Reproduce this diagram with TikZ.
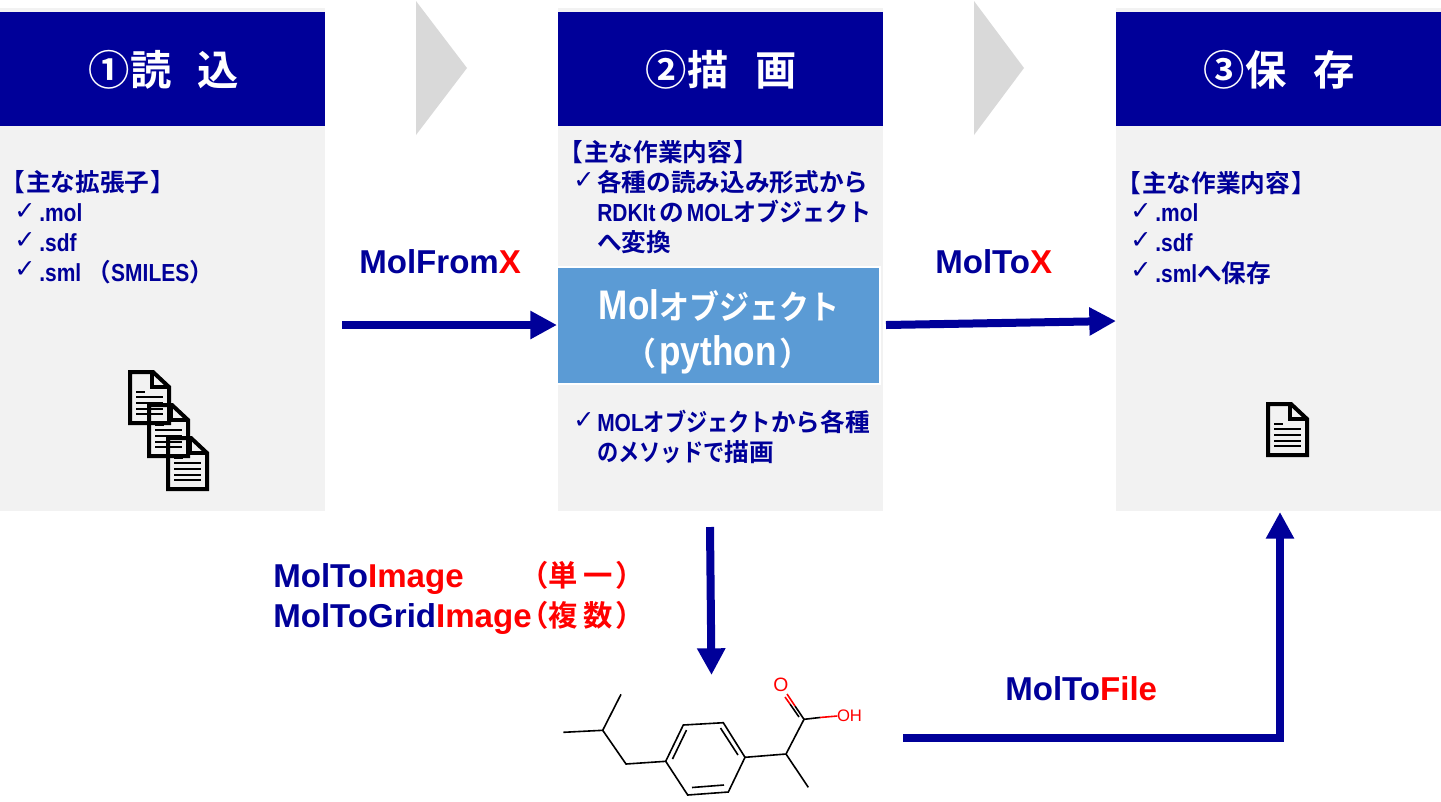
\documentclass[tikz,border=0pt]{standalone}
\usepackage{fontspec}
\setmainfont{Liberation Sans}[BoldFont={Liberation Sans Bold}]
\newfontfamily\cjk{Noto Sans CJK JP Bold}
\newfontfamily\narrowlat{Liberation Sans Bold}[FakeStretch=0.85]
\newfontfamily\sym{DejaVu Sans}
\usetikzlibrary{arrows.meta}
\definecolor{navy}{HTML}{000099}
\definecolor{panel}{HTML}{F2F2F2}
\definecolor{molblue}{HTML}{5B9BD5}
\definecolor{chev}{HTML}{D9D9D9}
\newcommand{\J}[1]{{\cjk #1}}
\newcommand{\N}[1]{{\narrowlat #1}}
\newcommand{\K}[2]{\scalebox{#1}[1]{\J{#2}}}
\newcommand{\fs}[1]{\fontsize{#1pt}{#1pt}\selectfont}
\newcommand{\Chk}{{\sym\fs{19}✓}}
\newcommand{\R}[1]{\textcolor{red}{#1}}
\tikzset{
  x=0.75pt,y=-0.75pt,
  panelbox/.style={fill=panel,draw=none},
  headbox/.style={fill=navy,draw=none},
  headtxt/.style={text=white,font=\fs{31},inner sep=0pt,anchor=center},
  listtxt/.style={text=navy,font=\fs{18.5},inner sep=0pt,anchor=west},
  chktxt/.style={text=navy,inner sep=0pt,anchor=center},
  cmd/.style={text=navy,font=\bfseries\fs{24.8},inner sep=0pt,anchor=west},
  paren/.style={text=red,font=\fs{22},inner sep=0pt,anchor=west},
  flow/.style={draw=navy,line width=6pt,-{Triangle[length=20pt,width=20pt]}},
  chevron/.style={fill=chev,draw=none},
  docline/.style={draw=black,line width=3pt,line join=miter},
  docrule/.style={draw=black,line width=1.9pt},
  bond/.style={draw=black,line width=1.2pt},
  rbond/.style={draw=red,line width=1.2pt},
  doc/.pic={
    \draw[docline] (0,0) -- (23,0) -- (39,15) -- (39,51) -- (0,51) -- cycle;
    \draw[docline] (22,0) -- (22,15) -- (39,15);
    \draw[docrule] (6,20) -- (15,20) (6,25) -- (33,25) (6,31) -- (33,31) (6,37) -- (33,37) (6,42) -- (33,42);
  }
}
\begin{document}
\begin{tikzpicture}
\useasboundingbox (0,0) rectangle (1441,801);
% panels
\fill[panelbox] (0,8) rectangle (325,511);
\fill[panelbox] (558,8) rectangle (883,511);
\fill[panelbox] (1116,8) rectangle (1441,511);
\fill[headbox] (0,12) rectangle (325,126);
\fill[headbox] (558,12) rectangle (883,126);
\fill[headbox] (1116,12) rectangle (1441,126);
\node[headtxt] (h1) at (164,70) {\J{①読\hspace{20pt}込}};
\node[headtxt] (h2) at (721,70) {\J{②描\hspace{20pt}画}};
\node[headtxt] (h3) at (1279,70) {\J{③保\hspace{20pt}存}};
% chevrons
\fill[chevron] (416,1) -- (467,68) -- (416,135) -- cycle;
\fill[chevron] (974,1) -- (1024,68) -- (974,135) -- cycle;
% left list
\node[listtxt] (l0) at (0,182) {\J{【\hspace{1pt}主な拡張子\hspace{1pt}】}};
\node[chktxt] (c1) at (25,212) {\Chk};
\node[listtxt] (l1) at (39,213) {\N{.mol}};
\node[chktxt] (c2) at (25,241) {\Chk};
\node[listtxt] (l2) at (39,243) {\N{.sdf}};
\node[chktxt] (c3) at (25,270) {\Chk};
\node[listtxt] (l3) at (39,272) {\N{.sml}\hspace{4pt}\J{（}\N{SMILES}\J{）}};
% middle list
\node[listtxt] (m0) at (558,152) {\J{【\hspace{1pt}主な作業内容\hspace{1pt}】}};
\node[chktxt] (c4) at (584,181) {\Chk};
\node[listtxt] (m1) at (597,182) {\J{各種の読み込み形式から}};
\node[listtxt] (m2) at (597,212) {\N{RDKIt}\hspace{3pt}\J{の}\hspace{2pt}\N{MOL}\K{.93}{オブジェクト}};
\node[listtxt] (m3) at (597,242) {\J{へ変換}};
\node[chktxt] (c5) at (584,421) {\Chk};
\node[listtxt] (m4) at (597,422) {\N{MOL}\K{.86}{オブジェクト}\J{から各種}};
\node[listtxt] (m5) at (597,452) {\K{.86}{のメソッドで}\J{描画}};
% mol box
\node[fill=molblue,draw=white,line width=1.5pt,minimum width=242pt,minimum height=87.75pt,inner sep=0pt,anchor=center] (mol) at (718.5,325) {};
\node[text=white,inner sep=0pt] (mt1) at (719,306) {\fs{31}\N{Mol}\fs{25}\K{.9}{オブジェクト}};
\node[text=white,inner sep=0pt] (mt2) at (718,355) {\fs{24}\J{（}\hspace{2pt}\fs{31}\N{python}\hspace{2pt}\fs{24}\J{）}};
% right list
\node[listtxt] (r0) at (1116,183) {\J{【\hspace{1pt}主な作業内容\hspace{1pt}】}};
\node[chktxt] (c6) at (1141,212) {\Chk};
\node[listtxt] (r1) at (1155,213) {\N{.mol}};
\node[chktxt] (c7) at (1141,241) {\Chk};
\node[listtxt] (r2) at (1155,243) {\N{.sdf}};
\node[chktxt] (c8) at (1141,271) {\Chk};
\node[listtxt] (r3) at (1155,273) {\N{.sml}\J{へ保存}};
% command labels
\node[cmd] (t1) at (359,262) {MolFrom\R{X}};
\node[cmd] (t2) at (935,262) {MolTo\R{X}};
\node[cmd] (t3) at (273,579) {MolTo\R{Image}};
\node[cmd] (t4) at (273,619) {MolToGrid\R{Image}};
\node[paren] (t5) at (519,575) {\J{（単\hspace{4.5pt}一\hspace{2pt}）}};
\node[paren] (t6) at (519,615) {\J{（複\hspace{4.5pt}数\hspace{2pt}）}};
\node[cmd] (t7) at (1005,689) {MolTo\R{File}};
% connector ends
\coordinate (a1) at (342,325);
\coordinate (a2) at (557,325);
\coordinate (b1) at (886,325);
\coordinate (b2) at (1116,321);
\coordinate (d1) at (710,527);
\coordinate (d2) at (711.5,675);
\coordinate (e1) at (903,738);
\coordinate (e2) at (1280,738);
\coordinate (e3) at (1280,512);
\draw[flow] (a1) -- (a2);
\draw[flow] (b1) -- (b2);
\draw[flow] (d1) -- (d2);
\draw[flow] (e1) -- (e2) -- (e3);
% icons
\pic at (130,372) {doc};
\pic at (149,405) {doc};
\pic at (168,438) {doc};
\pic at (1268,404) {doc};
% molecule
\draw[bond] (621,694.3) -- (602.7,730.3) -- (563.3,732.3);
\draw[bond] (602.7,730.3) -- (626,764) -- (665.7,761.3);
\draw[bond] (665.7,761.3) -- (683.3,725) -- (723.3,722.7) -- (745,757.3) -- (728.3,792) -- (687.7,795) -- cycle;
\draw[bond] (672.5,759) -- (686.5,730);
\draw[bond] (720.5,728) -- (738,755);
\draw[bond] (692,787.5) -- (724,785);
\draw[bond] (745,757.3) -- (786,754) -- (804,719.3);
\draw[bond] (786,754) -- (808.3,787.3);
\draw[bond] (804,719.3) -- (820,717.5);
\draw[rbond] (820,717.5) -- (837.3,716);
\draw[bond] (804,719.3) -- (795,706) (799,717) -- (790,704);
\draw[rbond] (795,706) -- (787,694) (790,704) -- (785,697);
\node[text=red,font=\fs{14.5},inner sep=0pt] (oatom) at (781,685) {O};
\node[text=red,font=\fs{12.5},inner sep=0pt] (ohatom) at (849.5,716) {OH};
\end{tikzpicture}
\end{document}
